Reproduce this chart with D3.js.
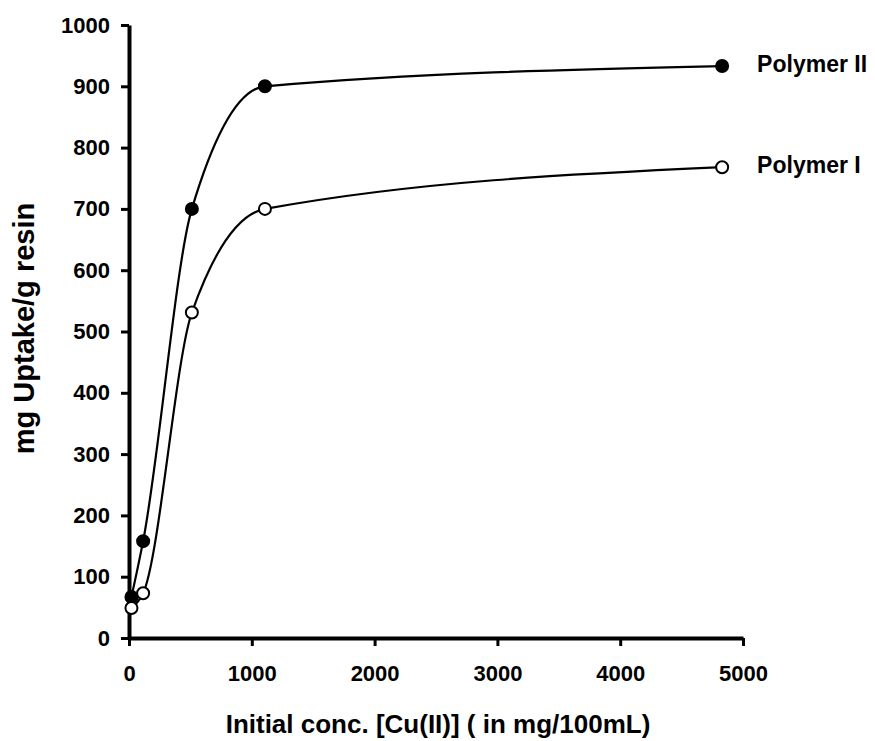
<!DOCTYPE html>
<html>
<head>
<meta charset="utf-8">
<script src="https://cdn.jsdelivr.net/npm/d3@7"></script>
<style>
  body { margin: 0; background: #fff; }
  text { font-family: "Liberation Sans", Arial, sans-serif; font-weight: bold; }
</style>
</head>
<body>
<svg width="875" height="741"></svg>
<script>
// data
var conc = [20, 115, 512, 1107, 4830];
var polymerII = [67, 158, 700, 900, 933];
var polymerI = [49, 73, 531, 700, 768];
var xTicks = [0, 1000, 2000, 3000, 4000, 5000];
var yTicks = [0, 100, 200, 300, 400, 500, 600, 700, 800, 900, 1000];

var svg = d3.select("svg"),
    margin = {left: 129, top: 25, right: 132, bottom: 103},
    width = +svg.attr("width") - margin.left - margin.right,
    height = +svg.attr("height") - margin.top - margin.bottom;

var x = d3.scaleLinear().domain([0, 5000]).range([0, width]);
var y = d3.scaleLinear().domain([0, 1000]).range([height, 0]);

var g = svg.append("g").attr("transform", "translate(" + margin.left + "," + margin.top + ")");

// axes
var xAxis = g.append("g")
    .attr("transform", "translate(0," + height + ")")
    .call(d3.axisBottom(x).tickValues(xTicks).tickFormat(d3.format("d"))
      .tickSize(8).tickPadding(19).tickSizeOuter(0));
var yAxis = g.append("g")
    .call(d3.axisLeft(y).tickValues(yTicks).tickFormat(d3.format("d"))
      .tickSize(8).tickPadding(11).tickSizeOuter(0));

[xAxis, yAxis].forEach(function(a) {
  a.select(".domain").attr("stroke", "#000").attr("stroke-width", 4);
  a.selectAll(".tick line").attr("stroke", "#000").attr("stroke-width", 3);
  a.selectAll(".tick text").attr("fill", "#000").style("font-size", "22px");
});

// curves
var line = d3.line()
    .x(function(d) { return x(d[0]); })
    .y(function(d) { return y(d[1]); })
    .curve(d3.curveMonotoneX);

var series = [
  {name: "Polymer II", values: polymerII, fill: "#000"},
  {name: "Polymer I", values: polymerI, fill: "#fff"}
];

series.forEach(function(s) {
  var pts = conc.map(function(c, i) { return [c, s.values[i]]; });
  g.append("path")
    .datum(pts)
    .attr("fill", "none")
    .attr("stroke", "#000")
    .attr("stroke-width", 2.2)
    .attr("d", line);
  g.selectAll(null)
    .data(pts).enter().append("circle")
    .attr("cx", function(d) { return x(d[0]); })
    .attr("cy", function(d) { return y(d[1]); })
    .attr("r", 6)
    .attr("fill", s.fill)
    .attr("stroke", "#000")
    .attr("stroke-width", 2);
  var last = pts[pts.length - 1];
  g.append("text")
    .attr("x", x(last[0]) + 35)
    .attr("y", y(last[1]) - 2)
    .attr("dy", "0.35em")
    .style("font-size", "23px")
    .text(s.name);
});

// axis titles
svg.append("text")
  .attr("x", margin.left + width / 2 + 2)
  .attr("y", 733)
  .attr("text-anchor", "middle")
  .style("font-size", "26px")
  .text("Initial conc. [Cu(II)] ( in mg/100mL)");

svg.append("text")
  .attr("transform", "translate(34," + (margin.top + height / 2 - 3) + ") rotate(-90)")
  .attr("text-anchor", "middle")
  .style("font-size", "29px")
  .text("mg Uptake/g resin");
</script>
</body>
</html>
